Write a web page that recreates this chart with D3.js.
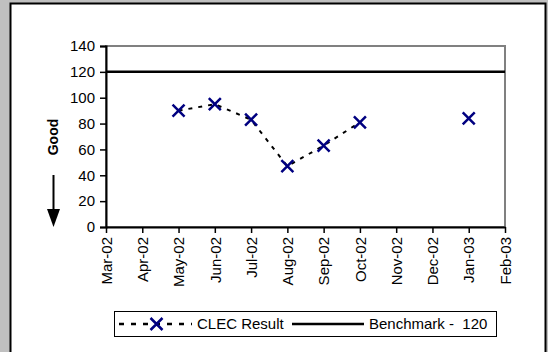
<!DOCTYPE html>
<html><head><meta charset="utf-8">
<script src="https://cdn.jsdelivr.net/npm/d3@7"></script>
<style>body{margin:0;background:#c0c0c0;}svg{display:block;}</style>
</head><body>
<script>
const months = ["Mar-02","Apr-02","May-02","Jun-02","Jul-02","Aug-02","Sep-02","Oct-02","Nov-02","Dec-02","Jan-03","Feb-03"];
const clecResult = [null,null,90,95,83,47,63,81,null,null,84,null];
const benchmark = 120;
const yTicks = [0,20,40,60,80,100,120,140];
const seriesNames = ["CLEC Result","Benchmark -  120"];

const W=548,H=352;
const svg=d3.select("body").append("svg").attr("width",W).attr("height",H);
svg.append("rect").attr("width",W).attr("height",H).attr("fill","#c0c0c0");
svg.append("rect").attr("x",10.5).attr("y",3.5).attr("width",535).attr("height",360)
  .attr("fill","#fff").attr("stroke","#000").attr("stroke-width",2);

const L=106,R=505,T=46,B=227;
const x=d3.scalePoint().domain(months).range([L,R]);
const y=d3.scaleLinear().domain([0,140]).range([B,T]);
const font="Liberation Sans, Arial, sans-serif";

// plot area border
svg.append("rect").attr("x",L).attr("y",T).attr("width",R-L).attr("height",B-T)
  .attr("fill","none").attr("stroke","#808080").attr("stroke-width",2);

// y axis
const ya=svg.append("g").attr("transform",`translate(${L},0)`)
  .call(d3.axisLeft(y).tickValues(yTicks).tickSize(6).tickPadding(5).tickFormat(d3.format("d")));
ya.select(".domain").attr("stroke","#000").attr("stroke-width",2);
ya.selectAll(".tick line").attr("stroke","#000").attr("stroke-width",1.5);
ya.selectAll("text").attr("font-family",font).attr("font-size",15).attr("fill","#000");

// x axis
const xa=svg.append("g").attr("transform",`translate(0,${B})`)
  .call(d3.axisBottom(x).tickSize(6).tickSizeOuter(0));
xa.select(".domain").attr("stroke","#000").attr("stroke-width",2);
xa.selectAll(".tick line").attr("stroke","#000").attr("stroke-width",1.5);
xa.selectAll("text").attr("font-family",font).attr("font-size",15).attr("fill","#000")
  .attr("transform","rotate(-90)").attr("text-anchor","end")
  .attr("x",-10).attr("y",0).attr("dy","0.35em");

// benchmark
svg.append("line").attr("x1",L).attr("x2",R).attr("y1",y(benchmark)).attr("y2",y(benchmark))
  .attr("stroke","#000").attr("stroke-width",2.5);

// CLEC line
const line=d3.line().defined((d,i)=>d!=null).x((d,i)=>x(months[i])).y(d=>y(d));
svg.append("path").datum(clecResult).attr("d",line).attr("fill","none")
  .attr("stroke","#000").attr("stroke-width",2).attr("stroke-dasharray","4,6");

function cross(g,cx,cy){
  const s=6;
  g.append("path").attr("d",`M${cx-s},${cy-s}L${cx+s},${cy+s}M${cx-s},${cy+s}L${cx+s},${cy-s}`)
   .attr("stroke","#000080").attr("stroke-width",2.5).attr("fill","none");
}
const mk=svg.append("g");
clecResult.forEach((v,i)=>{ if(v!=null){ cross(mk,x(months[i]),y(v)); }});

// Good label and arrow
svg.append("text").attr("transform","translate(58,137) rotate(-90)").attr("text-anchor","middle")
  .attr("font-family",font).attr("font-size",14).attr("font-weight","bold").text("Good");
svg.append("line").attr("x1",53.5).attr("x2",53.5).attr("y1",175).attr("y2",212).attr("stroke","#000").attr("stroke-width",2);
svg.append("path").attr("d","M47,209L60,209L53.5,227Z").attr("fill","#000");

// legend
svg.append("rect").attr("x",114.5).attr("y",311.5).attr("width",382).attr("height",25)
  .attr("fill","#fff").attr("stroke","#000").attr("stroke-width",1);
const ly=324;
svg.append("line").attr("x1",119).attr("x2",192).attr("y1",ly).attr("y2",ly)
  .attr("stroke","#000").attr("stroke-width",2.5).attr("stroke-dasharray","5,7");
cross(svg,156.5,ly);
svg.append("text").attr("x",197).attr("y",ly).attr("dy","0.35em").attr("font-family",font).attr("font-size",15).text(seriesNames[0]);
svg.append("line").attr("x1",292).attr("x2",364).attr("y1",ly).attr("y2",ly).attr("stroke","#000").attr("stroke-width",2.5);
svg.append("text").attr("x",369).attr("y",ly).attr("dy","0.35em").attr("font-family",font).attr("font-size",15).attr("xml:space","preserve").style("white-space","pre").text(seriesNames[1]);
</script>
</body></html>
